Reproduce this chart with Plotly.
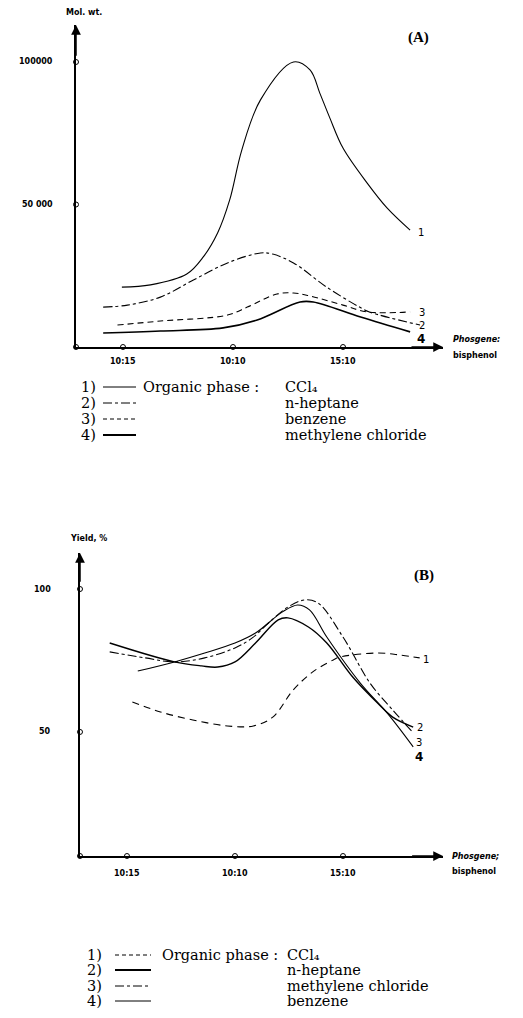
import plotly.graph_objects as go

W, H = 523, 1018

# ---------------- data ----------------
tick_vals = [1, 2, 3]
tick_text = ["10:15", "10:10", "15:10"]

# Panel A : molecular weight
a_x1 = [0.99, 1.25, 1.58, 1.73, 1.86, 1.97, 2.08, 2.25, 2.55, 2.70, 2.79, 2.88, 3.00, 3.22, 3.40, 3.61]
a_y1 = [21000, 21800, 25600, 31600, 40000, 51600, 69100, 86700, 100000, 97200, 89000, 80400, 69800, 57500, 48800, 41000]
a_x2 = [0.82, 1.04, 1.34, 1.64, 1.95, 2.25, 2.36, 2.55, 2.85, 3.15, 3.24, 3.70]
a_y2 = [14000, 14700, 17500, 23500, 29500, 33000, 32600, 29500, 21050, 14000, 12300, 7700]
a_x3 = [0.95, 1.34, 1.95, 2.13, 2.40, 2.55, 2.70, 3.00, 3.22, 3.61]
a_y3 = [7700, 9100, 11200, 14000, 18600, 18950, 17900, 14700, 12300, 12300]
a_x4 = [0.82, 1.34, 1.91, 2.22, 2.61, 2.73, 3.16, 3.61]
a_y4 = [4900, 5600, 6700, 9500, 15800, 15800, 10500, 5300]
a_yticks = [50000, 100000]
a_yticklabels = ["50 000", "100000"]

# Panel B : yield %
b_x1 = [1.05, 1.31, 1.61, 1.93, 2.17, 2.35, 2.54, 2.72, 2.91, 2.97, 3.32, 3.53, 3.71]
b_y1 = [60.5, 57.0, 54.2, 52.1, 52.1, 55.2, 64.7, 71.0, 75.2, 76.2, 77.6, 76.9, 75.9]
b_x2 = [0.84, 1.44, 1.69, 1.84, 2.00, 2.19, 2.40, 2.49, 2.68, 2.85, 3.09, 3.32, 3.46, 3.65]
b_y2 = [81.1, 74.5, 73.1, 72.7, 74.5, 81.1, 89.2, 89.9, 86.7, 81.1, 69.2, 60.1, 55.2, 51.7]
b_x3 = [0.84, 1.17, 1.44, 1.72, 2.00, 2.16, 2.31, 2.49, 2.65, 2.77, 3.00, 3.25, 3.46, 3.65]
b_y3 = [78.0, 75.9, 74.5, 75.9, 79.4, 82.9, 88.1, 93.7, 96.2, 95.1, 83.2, 67.1, 57.7, 49.7]
b_x4 = [1.10, 1.44, 1.72, 2.00, 2.19, 2.44, 2.58, 2.69, 2.85, 3.16, 3.41, 3.65]
b_y4 = [71.3, 74.5, 77.6, 81.1, 84.6, 92.0, 94.4, 92.7, 83.2, 67.1, 56.6, 44.8]
b_yticks = [50, 100]
b_yticklabels = ["50", "100"]

legend_a = ["CCl\u2084", "n-heptane", "benzene", "methylene chloride"]
legend_b = ["CCl\u2084", "n-heptane", "methylene chloride", "benzene"]

# ---------------- helpers ----------------
def px(x):
    return x / W

def py(y):
    return 1 - y / H

A_XR = [0.573, 3.909]
A_YR = [0, 112980]
B_XR = [0.565, 3.926]
B_YR = [6.6, 112.6]

THIN = 1.1

fig = go.Figure()

def add_line(x, y, xa, ya, width, dash):
    fig.add_trace(go.Scatter(x=x, y=y, xaxis=xa, yaxis=ya, mode="lines",
                             line=dict(color="black", width=width, dash=dash,
                                       shape="spline", smoothing=1.0),
                             showlegend=False, hoverinfo="skip"))

# Panel A curves
add_line(a_x1, a_y1, "x", "y", THIN, "solid")
add_line(a_x2, a_y2, "x", "y", THIN, "dashdot")
add_line(a_x3, a_y3, "x", "y", THIN, "6px,4px")
add_line(a_x4, a_y4, "x", "y", 1.6, "solid")

# Panel B curves
add_line(b_x1, b_y1, "x2", "y2", THIN, "7px,5px")
add_line(b_x2, b_y2, "x2", "y2", 1.4, "solid")
add_line(b_x3, b_y3, "x2", "y2", THIN, "dashdot")
add_line(b_x4, b_y4, "x2", "y2", THIN, "solid")

# tick circles on axes
for xa, ya, xr, yr, yt in [("x", "y", A_XR, A_YR, a_yticks), ("x2", "y2", B_XR, B_YR, b_yticks)]:
    fig.add_trace(go.Scatter(x=[xr[0]] + tick_vals, y=[yr[0]] * (len(tick_vals) + 1),
                             xaxis=xa, yaxis=ya, mode="markers", cliponaxis=False,
                             marker=dict(symbol="circle-open", size=5, color="black", line=dict(width=1)),
                             showlegend=False, hoverinfo="skip"))
    fig.add_trace(go.Scatter(x=[xr[0]] * len(yt), y=yt,
                             xaxis=xa, yaxis=ya, mode="markers", cliponaxis=False,
                             marker=dict(symbol="circle-open", size=5, color="black", line=dict(width=1)),
                             showlegend=False, hoverinfo="skip"))

axis_common = dict(showgrid=False, zeroline=False, showline=True, linecolor="black",
                   linewidth=1.5, ticks="", showticklabels=False, fixedrange=True)

fig.update_layout(
    width=W, height=H,
    margin=dict(l=0, r=0, t=0, b=0),
    paper_bgcolor="white", plot_bgcolor="white",
    xaxis=dict(domain=[px(76), px(443)], range=A_XR, anchor="y", **axis_common),
    yaxis=dict(domain=[py(347), py(25)], range=A_YR, anchor="x", **axis_common),
    xaxis2=dict(domain=[px(80), px(443)], range=B_XR, anchor="y2", **axis_common),
    yaxis2=dict(domain=[py(856), py(553)], range=B_YR, anchor="x2", **axis_common),
)

ann = []
sans_b = dict(family="DejaVu Sans", size=8, color="black")

def text(x, y, t, font, xanchor="center", yanchor="middle"):
    ann.append(dict(x=px(x), y=py(y), xref="paper", yref="paper", text=t, showarrow=False,
                    font=font, xanchor=xanchor, yanchor=yanchor))

# arrows at axis ends
for xa, ya, xr, yr in [("x", "y", A_XR, A_YR), ("x2", "y2", B_XR, B_YR)]:
    ann.append(dict(x=xr[1], y=yr[0], ax=xr[1] - 0.3, ay=yr[0], xref=xa, yref=ya,
                    axref=xa, ayref=ya, showarrow=True, arrowhead=2, arrowsize=1.3,
                    arrowwidth=1.5, arrowcolor="black", text=""))
    ann.append(dict(x=xr[0], y=yr[1], ax=xr[0], ay=yr[1] - (yr[1] - yr[0]) * 0.1, xref=xa, yref=ya,
                    axref=xa, ayref=ya, showarrow=True, arrowhead=2, arrowsize=1.3,
                    arrowwidth=1.5, arrowcolor="black", text=""))

# x tick labels
for v, t in zip(tick_vals, tick_text):
    ann.append(dict(x=v, y=py(361), xref="x", yref="paper", text="<b>" + t + "</b>",
                    showarrow=False, font=sans_b, xanchor="center", yanchor="middle"))
    ann.append(dict(x=v, y=py(873), xref="x2", yref="paper", text="<b>" + t + "</b>",
                    showarrow=False, font=sans_b, xanchor="center", yanchor="middle"))

# y tick labels
for v, t in zip(a_yticks, a_yticklabels):
    ann.append(dict(x=px(55), y=v, xref="paper", yref="y", text="<b>" + t + "</b>",
                    showarrow=False, font=sans_b, xanchor="right", yanchor="middle"))
for v, t in zip(b_yticks, b_yticklabels):
    ann.append(dict(x=px(53), y=v, xref="paper", yref="y2", text="<b>" + t + "</b>",
                    showarrow=False, font=sans_b, xanchor="right", yanchor="middle"))

# axis titles
text(84, 13, "<b>Mol. wt.</b>", sans_b)
text(88, 538, "<b>Yield, %</b>", sans_b)
text(451, 340, "<b><i>Phosgene:</i></b>", sans_b, xanchor="left")
text(451, 356, "<b>bisphenol</b>", sans_b, xanchor="left")
text(450, 856, "<b><i>Phosgene;</i></b>", sans_b, xanchor="left")
text(450, 871, "<b>bisphenol</b>", sans_b, xanchor="left")

# panel labels
serif_b = dict(family="Liberation Serif", size=15, color="black")
text(418, 37, "<b>(A)</b>", serif_b)
text(424, 575, "<b>(B)</b>", serif_b)

# curve numbers
small = dict(family="DejaVu Sans", size=10, color="black")
bigb = dict(family="DejaVu Sans", size=12, color="black")
text(416, 232, "1", small, xanchor="left")
text(417, 312, "3", small, xanchor="left")
text(417, 325, "2", small, xanchor="left")
text(415, 339, "<b>4</b>", bigb, xanchor="left")
text(421, 659, "1", small, xanchor="left")
text(415, 727, "2", small, xanchor="left")
text(414, 742, "3", small, xanchor="left")
text(413, 757, "<b>4</b>", bigb, xanchor="left")

# legends
serif = dict(family="DejaVu Serif", size=14.5, color="black")
shapes = []
def legend(rows, dashes, widths, names, lx0, lx1, numx, orgx, colx):
    for i, (r, d, w, n) in enumerate(zip(rows, dashes, widths, names)):
        text(numx, r, f"{i+1})", serif, xanchor="right")
        shapes.append(dict(type="line", xref="paper", yref="paper", x0=px(lx0), x1=px(lx1),
                           y0=py(r), y1=py(r), line=dict(color="black", width=w, dash=d)))
        if i == 0:
            text(orgx, r, "Organic phase :", serif, xanchor="left")
        text(colx, r, n, serif, xanchor="left")

legend([387, 403, 419, 435], ["solid", "dashdot", "4px,3px", "solid"], [1, 1, 1, 1.8],
       legend_a, 103, 136, 98, 141, 283)
legend([955, 970, 986, 1001], ["4px,3px", "solid", "dashdot", "solid"], [1, 1.8, 1, 1],
       legend_b, 115, 151, 104, 160, 285)

fig.update_layout(annotations=ann, shapes=shapes)
fig.write_html("out.html", config={"displayModeBar": False},
               post_script="document.body.style.margin='0px';document.body.style.padding='0px';")
